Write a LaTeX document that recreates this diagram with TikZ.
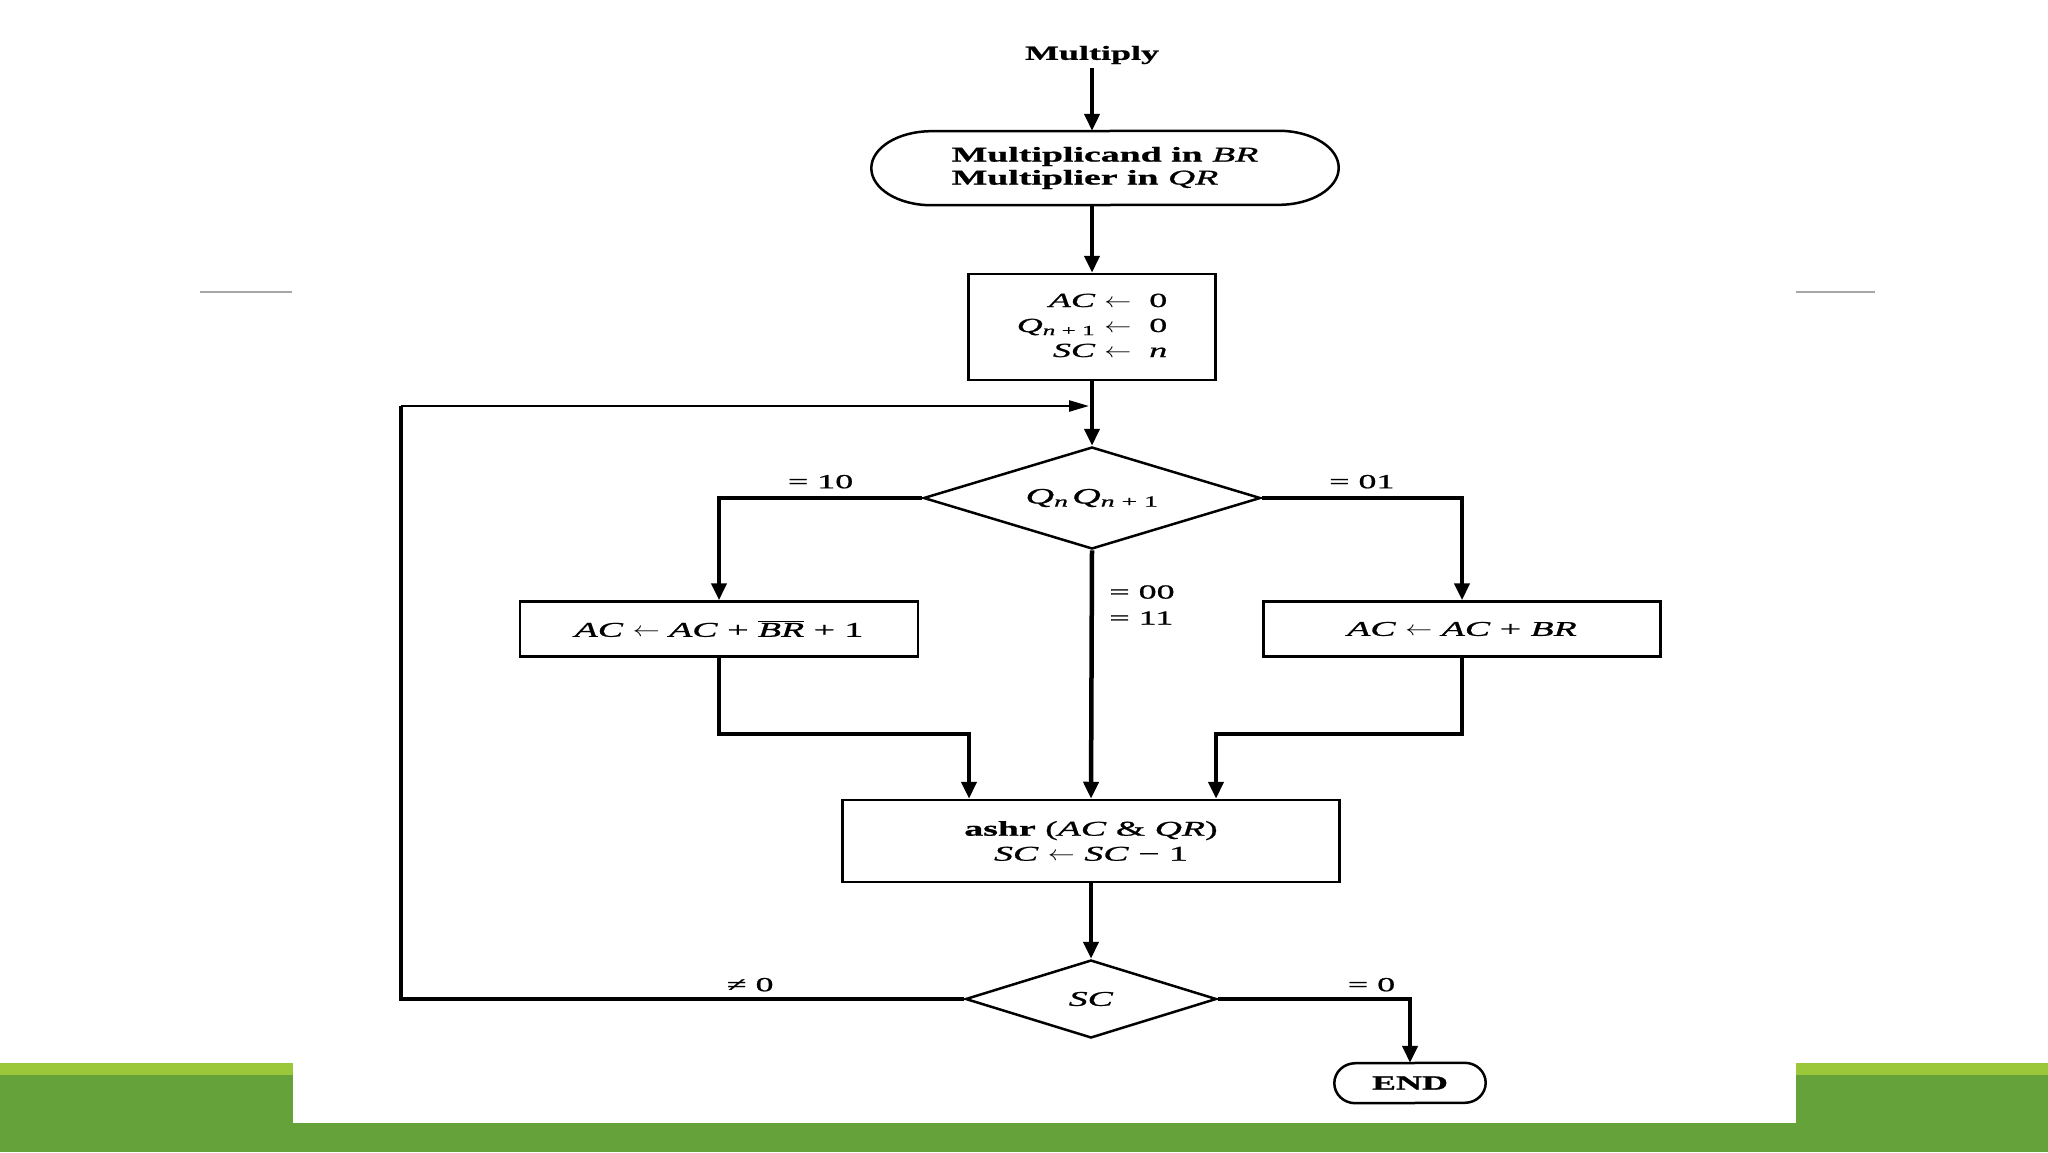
\documentclass[tikz,border=0pt]{standalone}
\usepackage{fontspec}
\usepackage{graphicx}
\setmainfont{Liberation Serif}[FakeStretch=1.8,FakeBold=1]
\usetikzlibrary{arrows.meta,shapes.geometric}

\definecolor{leafgreen}{HTML}{9BC83A}
\definecolor{mossgreen}{HTML}{66A23A}

\newcommand{\getsto}{\scalebox{1.3}[1]{$\leftarrow$}}

\tikzset{
  flow/.style={line width=4.5pt,-{Triangle[length=17pt,width=15pt]}},
  box/.style={draw,line width=2.5pt,rectangle,inner sep=0pt},
  test/.style={draw,line width=2.5pt,diamond,inner sep=0pt},
  cond/.style={font=\fontsize{20}{26}\selectfont},
}

\begin{document}
\begin{tikzpicture}[x=1pt,y=1pt,font=\fontsize{21}{25}\selectfont]
  \useasboundingbox (0,0) rectangle (2048,-1152);
  % slide
  \fill[white] (0,0) rectangle (2048,-1152);
  \fill[leafgreen] (0,-1063) rectangle (2048,-1075);
  \fill[mossgreen] (0,-1075) rectangle (2048,-1152);
  \fill[white] (293,-1000) rectangle (1796,-1123);
  \draw[black!35,line width=2.5pt] (200,-292) -- (292,-292);
  \draw[black!35,line width=2.5pt] (1796,-292) -- (1875,-292);

  % nodes
  \node[font=\fontsize{20}{24}\selectfont\bfseries] (mul) at (1092,-55) {Multiply};
  \node[minimum width=347, minimum height=74, inner sep=0pt, align=left,
        font=\fontsize{21}{23}\selectfont\bfseries] (load) at (1105,-168)
       {Multiplicand in {\mdseries\itshape BR}\\Multiplier in {\mdseries\itshape QR}};
  \draw[line width=2.5pt] (load.north east) arc[start angle=90,end angle=-90,x radius=60,y radius=37]
    -- (load.south west) arc[start angle=270,end angle=90,x radius=60,y radius=37] -- cycle;
  \node[box, minimum width=247, minimum height=106, font=\fontsize{20}{25}\selectfont] (init) at (1092,-327)
       {\begin{tabular}{@{}r@{\ }c@{\ \ }l@{}}
          \textit{AC} & \getsto & 0\\
          \textit{Q}\textsubscript{\textit{n} + 1} & \getsto & 0\\
          \textit{SC} & \getsto & \textit{n}
        \end{tabular}};
  \node[test, shape aspect=3.3, minimum width=337, minimum height=102, font=\fontsize{22}{25}\selectfont] (qq) at (1092,-498)
       {\textit{Q}\textsubscript{\textit{n}}\,\textit{Q}\textsubscript{\textit{n} + 1}};
  \node[box, minimum width=398, minimum height=55] (negb) at (719,-629)
       {\textit{AC} \getsto{} \textit{AC} + $\overline{\hbox{\itshape BR}}$ + 1};
  \node[box, minimum width=397, minimum height=55] (addb) at (1462,-629)
       {\textit{AC} \getsto{} \textit{AC} + \textit{BR}};
  \node[box, minimum width=497, minimum height=82, align=center] (ashr) at (1091,-841)
       {\textbf{ashr} (\textit{AC} \& \textit{QR})\\\textit{SC} \getsto{} \textit{SC} − 1};
  \node[test, shape aspect=3.2, minimum width=251, minimum height=78] (sc) at (1091,-999) {\textit{SC}};
  \node[minimum width=109, minimum height=40, inner sep=0pt, font=\fontsize{20}{24}\selectfont\bfseries]
       (fin) at (1410,-1083) {END};
  \draw[line width=2.5pt] (fin.north east) arc[start angle=90,end angle=-90,x radius=21,y radius=20]
    -- (fin.south west) arc[start angle=270,end angle=90,x radius=21,y radius=20] -- cycle;

  % connectors
  \draw[flow] (mul.south) -- (mul.south |- load.north);
  \draw[flow] (init |- load.south) -- (init.north);
  \draw[flow] (init.south) -- (qq.north);
  \draw[flow] (qq.west) -| (negb.north) node[cond, pos=0.25, above, yshift=4pt] {= 10};
  \draw[flow] (qq.east) -| (addb.north) node[cond, pos=0.25, above, yshift=4pt] {= 01};
  \draw[flow] (qq.south) -- (ashr.north) node[cond, pos=0.22, right, xshift=12pt, align=left] {= 00\\= 11};
  \draw[flow] (negb.south) |- ([xshift=-122pt,yshift=65pt]ashr.north) -- ([xshift=-122pt]ashr.north);
  \draw[flow] (addb.south) |- ([xshift=125pt,yshift=65pt]ashr.north) -- ([xshift=125pt]ashr.north);
  \draw[flow] (ashr.south) -- (sc.north);
  \draw[flow] (sc.east) -| (fin.north) node[cond, pos=0.4, above, yshift=2pt] {= 0};
  \coordinate (back) at (401,-406);
  \draw[line width=4.5pt] (sc.west) -| (back) node[cond, pos=0.19, above, yshift=2pt] {≠ 0};
  \draw[line width=2.5pt, shorten >=3pt, -{Triangle[length=20pt,width=11pt]}] (back) -- (back -| init.south);
\end{tikzpicture}
\end{document}
